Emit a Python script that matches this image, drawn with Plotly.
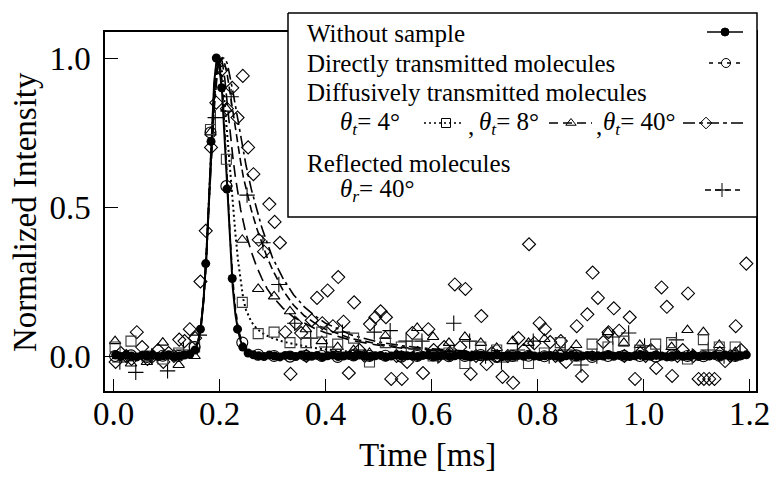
import plotly.graph_objects as go

# frame of the plot in pixels (page is 771 x 479)
W, H = 771, 479
FL, FR, FT, FB = 105, 756, 32, 391

# ---- data ----
# sampling time of the "without sample" points and of the 40 deg diffuse points [ms]
t_fine = [0.004, 0.014, 0.024, 0.034, 0.044, 0.054, 0.064, 0.074, 0.084, 0.094,
          0.104, 0.114, 0.124, 0.134, 0.144, 0.154, 0.164, 0.174, 0.184, 0.194,
          0.204, 0.214, 0.224, 0.234, 0.244, 0.254, 0.264, 0.274, 0.284, 0.294,
          0.304, 0.314, 0.324, 0.334, 0.344, 0.354, 0.364, 0.374, 0.384, 0.394,
          0.404, 0.414, 0.424, 0.434, 0.444, 0.454, 0.464, 0.474, 0.484, 0.494,
          0.504, 0.514, 0.524, 0.534, 0.544, 0.554, 0.564, 0.574, 0.584, 0.594,
          0.604, 0.614, 0.624, 0.634, 0.644, 0.654, 0.664, 0.674, 0.684, 0.694,
          0.704, 0.714, 0.724, 0.734, 0.744, 0.754, 0.764, 0.774, 0.784, 0.794,
          0.804, 0.814, 0.824, 0.834, 0.844, 0.854, 0.864, 0.874, 0.884, 0.894,
          0.904, 0.914, 0.924, 0.934, 0.944, 0.954, 0.964, 0.974, 0.984, 0.994,
          1.004, 1.014, 1.024, 1.034, 1.044, 1.054, 1.064, 1.074, 1.084, 1.094,
          1.104, 1.114, 1.124, 1.134, 1.144, 1.154, 1.164, 1.174, 1.184, 1.194]
# sampling time of the other measured points [ms]
t_coarse = [0.003, 0.033, 0.063, 0.093, 0.123, 0.153, 0.183, 0.213, 0.243, 0.273,
            0.303, 0.333, 0.363, 0.393, 0.423, 0.453, 0.483, 0.513, 0.543, 0.573,
            0.603, 0.633, 0.663, 0.693, 0.723, 0.753, 0.783, 0.813, 0.843, 0.873,
            0.903, 0.933, 0.963, 0.993, 1.023, 1.053, 1.083, 1.113, 1.143, 1.173]
t_plus = [0.012, 0.042, 0.072, 0.102, 0.132, 0.162, 0.192, 0.222, 0.252, 0.282,
          0.312, 0.342, 0.372, 0.402, 0.432, 0.462, 0.492, 0.522, 0.552, 0.582,
          0.612, 0.642, 0.672, 0.702, 0.732, 0.762, 0.792, 0.822, 0.852, 0.882,
          0.912, 0.942, 0.972, 1.002, 1.032, 1.062, 1.092, 1.122, 1.152, 1.182]

without_pts = [0.003, -0.002, 0.004, 0.0, -0.003, 0.002, -0.001, 0.003, -0.002, 0.001,
               0.004, -0.002, 0.0, 0.003, 0.006, 0.02, 0.09, 0.31, 0.72, 1.0,
               0.90, 0.56, 0.26, 0.09, 0.03, 0.01, 0.004, 0.001, -0.002, 0.003,
               0.0, -0.003, 0.002, 0.001, -0.002, 0.003, 0.0, -0.001, 0.002, -0.003,
               0.001, 0.003, -0.002, 0.0, 0.002, -0.001, 0.003, 0.0, -0.002, 0.001,
               0.002, -0.003, 0.0, 0.003, -0.001, 0.001, 0.0, -0.002, 0.002, 0.003,
               -0.001, 0.0, 0.002, -0.002, 0.001, 0.003, 0.0, -0.003, 0.001, 0.002,
               -0.001, 0.0, 0.003, -0.002, 0.001, 0.0, 0.002, -0.001, 0.003, 0.0,
               -0.002, 0.001, 0.002, 0.0, -0.003, 0.001, 0.003, -0.001, 0.0, 0.002,
               -0.002, 0.001, 0.0, 0.003, -0.001, 0.002, 0.0, -0.002, 0.001, 0.003,
               0.0, -0.001, 0.002, 0.0, -0.003, 0.001, 0.002, -0.001, 0.0, 0.003,
               -0.002, 0.001, 0.0, 0.002, -0.001, 0.003, 0.0, -0.002, 0.001, 0.004]
direct_pts = [0.0, 0.002, -0.003, 0.001, 0.0, 0.03, 0.75, 0.57, 0.045, 0.004,
              0.0, -0.002, 0.001, 0.0, -0.003, 0.002, 0.0, 0.001, -0.002, 0.0,
              0.002, -0.001, 0.0, 0.003, -0.002, 0.0, 0.001, -0.001, 0.0, 0.002,
              -0.003, 0.0, 0.001, 0.0, -0.002, 0.002, 0.0, -0.001, 0.001, 0.0]
diff4_pts = [0.03, 0.05, 0.0, -0.01, 0.01, 0.03, 0.76, 0.66, 0.18, 0.075,
             0.08, 0.045, 0.045, 0.08, 0.04, 0.06, -0.02, 0.045, 0.03, 0.04,
             0.0, 0.01, -0.025, 0.03, 0.02, 0.0, -0.025, 0.01, 0.045, 0.0,
             0.04, 0.03, 0.05, 0.02, 0.04, 0.045, -0.01, 0.055, 0.03, 0.03]
diff8_pts = [0.05, -0.025, -0.02, 0.045, -0.03, 0.0, 0.75, 0.83, 0.39, 0.225,
             0.20, 0.15, 0.09, 0.05, 0.03, 0.02, 0.01, 0.067, 0.0, 0.094,
             0.064, 0.044, 0.064, 0.044, 0.027, 0.05, 0.044, 0.057, 0.01, 0.037,
             0.0, 0.08, 0.044, 0.037, 0.0, 0.03, 0.087, 0.08, 0.037, 0.013]
diff40_pts = [-0.02, 0.01, 0.0, -0.01, 0.08, 0.03, -0.01, 0.0, 0.02, -0.02,
              0.01, 0.0, 0.055, 0.05, 0.09, 0.06, 0.25, 0.42, 0.70, 0.85,
              0.96, 0.83, 0.90, 0.80, 0.94, 0.70, 0.61, 0.39, 0.35, 0.51,
              0.45, 0.38, 0.08, -0.06, 0.11, 0.077, 0.0, 0.12, 0.195, 0.11,
              0.22, 0.10, 0.265, 0.115, -0.057, 0.18, 0.02, 0.0, 0.107, 0.13,
              0.15, 0.13, -0.077, 0.0, -0.077, -0.02, 0.077, 0.01, -0.057, 0.09,
              0.02, 0.0, 0.03, 0.01, 0.24, 0.03, 0.225, -0.06, 0.0, 0.134,
              -0.027, 0.01, 0.0, -0.07, 0.0, -0.09, 0.06, 0.02, 0.375, 0.043,
              0.11, 0.09, 0.047, 0.0, 0.05, -0.02, 0.01, 0.10, -0.067, 0.14,
              0.28, 0.195, 0.047, 0.08, 0.16, 0.085, 0.0, 0.13, -0.077, 0.01,
              0.0, 0.02, -0.04, 0.23, 0.165, -0.067, 0.0, 0.02, 0.21, 0.0,
              -0.077, -0.077, -0.077, -0.077, 0.01, -0.017, 0.0, 0.10, 0.02, 0.31]
refl_pts = [-0.02, -0.055, 0.0, -0.05, 0.02, 0.07, 0.80, 0.87, 0.54, 0.38,
            0.24, 0.11, 0.06, 0.03, 0.08, 0.02, 0.08, 0.085, 0.05, 0.05,
            0.0, 0.11, 0.05, 0.0, -0.02, 0.02, 0.05, 0.0, 0.02, -0.03,
            0.0, 0.064, 0.077, 0.034, 0.01, 0.054, 0.0, 0.02, 0.0, 0.01]

# smoothed curves
fit_t = [0.0, 0.12, 0.14, 0.15, 0.155, 0.16, 0.165, 0.17, 0.175, 0.18,
         0.185, 0.19, 0.195, 0.2, 0.205, 0.21, 0.215, 0.22, 0.225, 0.23,
         0.235, 0.24, 0.245, 0.25, 0.26, 0.27, 0.28, 0.29, 0.3, 0.32,
         0.34, 0.36, 0.38, 0.4, 0.45, 0.5, 0.55, 0.6, 0.7, 0.8,
         0.9, 1.0, 1.1, 1.19]
without_fit = [0, 0, 0.002, 0.01, 0.025, 0.05, 0.10, 0.19, 0.33, 0.52,
               0.74, 0.92, 1.0, 0.97, 0.88, 0.72, 0.54, 0.37, 0.23, 0.14,
               0.085, 0.05, 0.03, 0.02, 0.01, 0.005, 0.003, 0.002, 0.001, 0,
               0, 0, 0, 0, 0, 0, 0, 0, 0, 0,
               0, 0, 0, 0]
direct_fit = [0, 0, 0.002, 0.01, 0.025, 0.05, 0.10, 0.19, 0.33, 0.52,
              0.73, 0.90, 0.99, 0.99, 0.92, 0.77, 0.58, 0.40, 0.26, 0.16,
              0.10, 0.06, 0.04, 0.025, 0.012, 0.006, 0.003, 0.001, 0, 0,
              0, 0, 0, 0, 0, 0, 0, 0, 0, 0,
              0, 0, 0, 0]
diff4_fit = [0, 0, 0.002, 0.01, 0.025, 0.05, 0.10, 0.19, 0.33, 0.52,
             0.73, 0.90, 0.98, 1.0, 0.95, 0.84, 0.72, 0.62, 0.52, 0.41,
             0.32, 0.25, 0.19, 0.155, 0.115, 0.092, 0.078, 0.068, 0.06, 0.048,
             0.04, 0.033, 0.027, 0.022, 0.014, 0.009, 0.006, 0.004, 0.002, 0.001,
             0, 0, 0, 0]
diff8_fit = [0, 0, 0.002, 0.01, 0.025, 0.05, 0.10, 0.19, 0.33, 0.52,
             0.72, 0.88, 0.96, 1.0, 0.99, 0.93, 0.84, 0.75, 0.67, 0.60,
             0.54, 0.49, 0.45, 0.41, 0.35, 0.30, 0.26, 0.225, 0.20, 0.16,
             0.13, 0.11, 0.092, 0.078, 0.052, 0.036, 0.025, 0.018, 0.01, 0.005,
             0.003, 0.002, 0.001, 0]
diff40_fit = [0, 0, 0.002, 0.01, 0.025, 0.05, 0.10, 0.19, 0.32, 0.50,
              0.68, 0.83, 0.93, 0.98, 1.0, 1.0, 0.98, 0.94, 0.89, 0.84,
              0.79, 0.74, 0.69, 0.64, 0.56, 0.49, 0.43, 0.38, 0.33, 0.26,
              0.205, 0.165, 0.135, 0.11, 0.07, 0.047, 0.033, 0.024, 0.013, 0.007,
              0.004, 0.002, 0.001, 0]
refl_fit = [0, 0, 0.002, 0.01, 0.025, 0.05, 0.10, 0.19, 0.32, 0.51,
            0.70, 0.85, 0.95, 0.99, 1.0, 0.98, 0.94, 0.88, 0.82, 0.76,
            0.70, 0.65, 0.60, 0.56, 0.49, 0.43, 0.38, 0.33, 0.29, 0.22,
            0.17, 0.135, 0.11, 0.09, 0.058, 0.04, 0.028, 0.02, 0.011, 0.006,
            0.003, 0.002, 0.001, 0]

x_ticks = [0.0, 0.2, 0.4, 0.6, 0.8, 1.0, 1.2]
y_ticks = [0.0, 0.5, 1.0]

FONT = "Liberation Serif"
INK = "black"

# axis ranges chosen so that 0 ms sits at x=113.5 px and 0/1 at y=356/58 px
XPX = 530.0
YPX = 298.0
x_range = [(FL - 113.5) / XPX, (FR - 113.5) / XPX]
y_range = [(356 - FB) / YPX, (356 - FT) / YPX]

fig = go.Figure()


def fit_line(y, dash, width=1.6):
    fig.add_trace(go.Scatter(x=fit_t, y=y, mode="lines", hoverinfo="skip",
                             line=dict(color=INK, width=width, dash=dash)))


def points(x, y, symbol, size, color=INK, lw=1.1):
    fig.add_trace(go.Scatter(x=x, y=y, mode="markers", hoverinfo="skip",
                             marker=dict(symbol=symbol, size=size, color=color,
                                         line=dict(color=color, width=lw))))


fit_line(diff40_fit, "12px,4px,3px,4px")
fit_line(refl_fit, "8px,4px")
fit_line(diff8_fit, "12px,6px")
fit_line(diff4_fit, "2px,3px", 2)
fit_line(direct_fit, "6px,4px")
fit_line(without_fit, "solid", 2)

points(t_fine, diff40_pts, "diamond-open", 10)
points(t_plus, refl_pts, "cross-thin-open", 11)
points(t_coarse, diff8_pts, "triangle-up-open", 10)
points(t_coarse, diff4_pts, "square-open", 10, color="#3a3a3a")
points(t_coarse, direct_pts, "circle-open", 11)
points(t_fine, without_pts, "circle", 9, lw=0)

# ---- hand drawn legend on a pixel overlay ----
P = dict(xaxis="x2", yaxis="y2", hoverinfo="skip", showlegend=False)
fig.add_trace(go.Scatter(x=[288, 757, 757, 288, 288], y=[13, 13, 217, 217, 13],
                         mode="lines", fill="toself", fillcolor="white",
                         line=dict(color=INK, width=1.5), **P))

keys = [
    # x0, x1, y, dash, symbol, marker size, marker x
    (707, 743, 32, "solid", "circle", 8, 725),
    (709, 743, 63, "4px,5px", "circle-open", 9, 726),
    (424, 463, 123, "2px,3px", "square-open", 9, 446),
    (549, 592, 123, "9px,5px", "triangle-up-open", 9, 571),
    (683, 745, 123, "12px,4px,4px,4px", "diamond-open", 9, 706),
    (705, 740, 190, "6px,4px", "cross-thin-open", 10, 722),
]
for x0, x1, yk, dash, sym, ms, xm in keys:
    fig.add_trace(go.Scatter(x=[x0, x1], y=[yk, yk], mode="lines",
                             line=dict(color=INK, width=1.5, dash=dash), **P))
    fig.add_trace(go.Scatter(x=[xm], y=[yk], mode="markers",
                             marker=dict(symbol=sym, size=ms, color=INK,
                                         line=dict(color=INK, width=1)), **P))

th_t = "<i>θ</i><sub><i>t</i></sub>"
th_r = "<i>θ</i><sub><i>r</i></sub>"
labels = [
    ("Without sample", 305, 33),
    ("Directly transmitted molecules", 305, 63),
    ("Diffusively transmitted molecules", 305, 92),
    (th_t + "= 4°", 338, 123),
    (",", 466, 126),
    (th_t + "= 8°", 477, 123),
    (",", 594, 126),
    (th_t + "= 40°", 601, 123),
    ("Reflected molecules", 305, 163),
    (th_r + "= 40°", 338, 190),
]
annotations = []
for txt, ax, ay in labels:
    annotations.append(dict(text=txt, x=ax, y=ay, xref="x2", yref="y2",
                            xanchor="left", yanchor="middle", showarrow=False,
                            font=dict(family=FONT, size=25, color=INK)))
annotations.append(dict(text="Normalized Intensity", x=25, y=212, xref="x2", yref="y2",
                        textangle=-90, showarrow=False,
                        font=dict(family=FONT, size=33, color=INK)))
annotations.append(dict(text="Time [ms]", x=427, y=455, xref="x2", yref="y2",
                        showarrow=False, font=dict(family=FONT, size=33, color=INK)))

fig.update_layout(
    width=W, height=H, autosize=False,
    margin=dict(l=0, r=0, t=0, b=0, pad=0, autoexpand=False),
    paper_bgcolor="white", plot_bgcolor="rgba(0,0,0,0)",
    showlegend=False,
    font=dict(family=FONT, color=INK),
    annotations=annotations,
    xaxis=dict(domain=[FL / W, FR / W], range=x_range, tickvals=x_ticks,
               tickformat=".1f", ticks="inside", ticklen=12, tickwidth=1.3,
               tickcolor=INK, showline=True, linecolor=INK, linewidth=1.5,
               mirror=True, showgrid=False, zeroline=False, automargin=False,
               tickfont=dict(family=FONT, size=33, color=INK),
               ticklabelstandoff=-7, anchor="y"),
    yaxis=dict(domain=[(H - FB) / H, (H - FT) / H], range=y_range, tickvals=y_ticks,
               tickformat=".1f", ticks="inside", ticklen=13, tickwidth=1.3,
               tickcolor=INK, showline=True, linecolor=INK, linewidth=1.5,
               mirror=True, showgrid=False, zeroline=False, automargin=False,
               tickfont=dict(family=FONT, size=33, color=INK),
               ticklabelstandoff=6, anchor="x"),
    xaxis2=dict(domain=[0, 1], range=[0, W], visible=False, anchor="y2",
                automargin=False),
    yaxis2=dict(domain=[0, 1], range=[H, 0], visible=False, anchor="x2",
                automargin=False),
)

# the page body has a default 8px margin; drop it so the figure fills the window
fig.write_html("out.html", config={"displayModeBar": False},
               post_script="document.body.style.margin='0';"
                           "document.body.style.overflow='hidden';")
